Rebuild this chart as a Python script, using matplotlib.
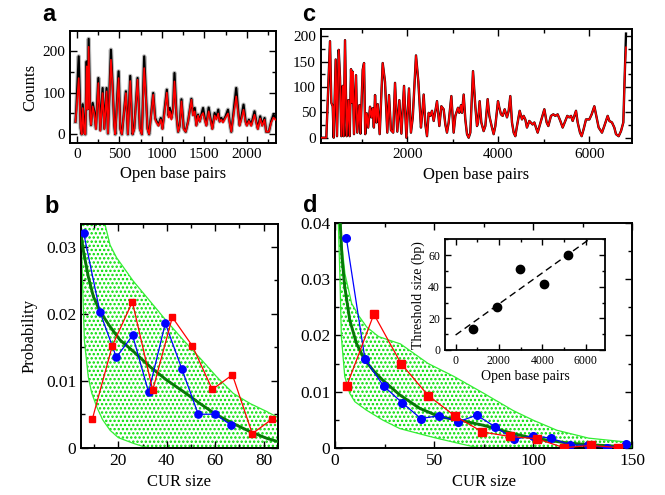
import numpy as np
import matplotlib
matplotlib.use("Agg")
import matplotlib.pyplot as plt
from matplotlib.ticker import MultipleLocator, FuncFormatter

# --- Panel a: counts vs open base pairs (black = data, red = model) --------
a_bp = [-15, -5, 23, 46, 58, 70, 90, 101, 117, 128, 140, 158, 168, 187, 206, 226, 254, 277,
        304, 324, 351, 367, 402, 422, 441, 453, 492, 512, 531, 578, 601, 629, 656, 676, 715,
        742, 766, 793, 813, 832, 851, 899, 922, 938, 961, 988, 1008, 1059, 1080, 1094, 1113,
        1133, 1149, 1172, 1192, 1211, 1231, 1258, 1281, 1309, 1348, 1367, 1387, 1406, 1426,
        1446, 1465, 1485, 1504, 1524, 1551, 1571, 1594, 1621, 1641, 1664, 1680, 1700, 1719,
        1750, 1778, 1797, 1817, 1836, 1875, 1895, 1914, 1934, 1961, 1985, 2000, 2024, 2051,
        2090, 2110, 2129, 2157, 2180, 2208, 2227, 2258, 2286, 2313, 2337]
a_black = [30, 60, 187, 15, 0, 72, 2, 0, 175, 60, 229, 47, 22, 75, 55, 14, 135, 10,
           111, 14, 111, 2, 203, 115, 22, 0, 151, 14, 0, 103, 0, 140, 0, 14, 135,
           14, 0, 187, 95, 14, 0, 99, 39, 31, 22, 39, 14, 107, 45, 63, 39,
           63, 147, 47, 6, 22, 84, 14, 6, 31, 85, 47, 63, 22, 47,
           31, 47, 63, 39, 22, 64, 39, 14, 51, 39, 59, 31, 39, 31,
           43, 59, 31, 6, 39, 111, 63, 22, 39, 71, 31, 22, 35, 22,
           55, 31, 14, 43, 22, 39, 6, 6, 31, 47, 39]
a_red = [30, 55, 135, 15, 0, 63, 2, 0, 163, 60, 210, 45, 22, 67, 50, 12, 123, 8,
         99, 12, 103, 2, 179, 111, 20, 0, 135, 12, 0, 99, 0, 128, 0, 12, 131,
         12, 0, 159, 90, 12, 0, 95, 35, 28, 20, 35, 12, 100, 40, 55, 35,
         60, 127, 45, 6, 20, 79, 12, 6, 30, 83, 45, 55, 20, 45,
         30, 45, 51, 35, 20, 55, 35, 12, 45, 35, 50, 30, 35, 28,
         40, 50, 28, 6, 35, 91, 55, 20, 35, 59, 28, 20, 32, 20,
         47, 28, 12, 38, 20, 35, 6, 6, 28, 40, 35]

# --- Panel c: longer sequence -----------------------------------------------
c_bp = [90, 220, 257, 301, 330, 360, 382, 426, 455, 492,
        521, 550, 580, 601, 631, 667, 704, 733, 763, 782,
        800, 828, 873, 900, 946, 970, 1020, 1049, 1075, 1108,
        1140, 1181, 1210, 1240, 1265, 1291, 1320, 1350, 1393, 1459,
        1510, 1560, 1598, 1640, 1690, 1730, 1780, 1825, 1870, 1928,
        1980, 2037, 2080, 2120, 2191, 2243, 2300, 2330, 2360, 2397,
        2433, 2470, 2506, 2543, 2580, 2653, 2704, 2748, 2799, 2836,
        2872, 2909, 2968, 3019, 3056, 3114, 3143, 3180, 3202, 3239,
        3275, 3312, 3349, 3385, 3444, 3495, 3532, 3554, 3590, 3627,
        3678, 3715, 3766, 3803, 3861, 3898, 3935, 3993, 4023, 4059,
        4096, 4140, 4191, 4228, 4264, 4301, 4338, 4374, 4411, 4470,
        4521, 4557, 4594, 4630, 4682, 4755, 4792, 4865, 4939, 5012,
        5063, 5100, 5158, 5210, 5254, 5305, 5364, 5415, 5473, 5517,
        5561, 5598, 5635, 5708, 5745, 5796, 5832, 5876, 5928, 6001,
        6052, 6111, 6147, 6206, 6279, 6330, 6404, 6441, 6499, 6550,
        6587, 6646, 6697, 6748, 6785, 6807]
c_black = [0, 0, 89, 190, 69, 62, 0, 154, 3, 173,
           118, 3, 102, 3, 192, 3, 74, 3, 135, 69,
           130, 7, 123, 10, 64, 8, 134, 147, 7, 48,
           20, 61, 40, 58, 20, 84, 30, 66, 7, 147,
           110, 10, 84, 15, 10, 108, 12, 74, 8, 102,
           0, 97, 10, 40, 162, 110, 20, 49, 85, 26,
           3, 49, 43, 53, 33, 72, 23, 62, 56, 26,
           10, 30, 82, 10, 43, 59, 49, 64, 49, 85,
           36, 7, 0, 10, 131, 62, 23, 30, 72, 30,
           13, 23, 76, 43, 20, 7, 23, 72, 59, 46,
           43, 56, 40, 53, 82, 30, 10, 3, 23, 53,
           36, 43, 36, 20, 33, 26, 30, 10, 33, 56,
           30, 23, 43, 46, 43, 46, 33, 20, 33, 43,
           40, 43, 33, 53, 30, 10, 3, 17, 36, 36,
           46, 62, 46, 20, 10, 23, 43, 33, 30, 20,
           7, 3, 13, 30, 141, 205]
c_red = c_black[:-1] + [178]

# --- Panel b: CUR size distribution -----------------------------------------
b_blue_x = [5.7, 12.4, 19.2, 25.9, 32.5, 39.4, 46.3, 53.0, 59.9, 66.5]
b_blue_y = [0.0321, 0.0203, 0.0135, 0.0168, 0.0083, 0.0186, 0.0117, 0.0050, 0.0050, 0.0034]
b_red_x = [9.3, 17.5, 25.8, 34.2, 42.3, 50.6, 58.8, 67.1, 75.3, 83.6]
b_red_y = [0.0043, 0.0152, 0.0218, 0.0086, 0.0195, 0.0152, 0.0087, 0.0109, 0.0021, 0.0043]
b_fit_x = [4.6, 5.5, 7.6, 9.7, 12.4, 16.6, 20.7, 26.2, 33.1, 40, 46.8, 53.7, 60.6, 67.5, 74.4, 81.3, 86]
b_fit_y = [0.0320, 0.0296, 0.0256, 0.0226, 0.0204, 0.0181, 0.0161, 0.0144, 0.0121, 0.0101,
           0.0084, 0.0066, 0.0049, 0.0036, 0.0024, 0.0014, 0.0009]
b_up_x = [4.6, 10, 14.5, 16.6, 19.3, 26.2, 33.1, 40, 46.8, 53.7, 60.6, 67.5, 74.4, 81.3, 86]
b_up_y = [0.045, 0.038, 0.0334, 0.0303, 0.0284, 0.0249, 0.0219, 0.0189, 0.0161, 0.0134,
          0.0106, 0.0081, 0.0066, 0.0054, 0.0045]
b_lo_x = [4.6, 5.2, 6.0, 7.6, 9.0, 11.1, 13.5, 16.6, 20, 26.2, 30, 32.4, 86]
b_lo_y = [0.034, 0.025, 0.016, 0.0106, 0.0082, 0.0061, 0.0042, 0.0026, 0.0015, 0.00065, 0.0002, 0, 0]

# --- Panel d ----------------------------------------------------------------
d_blue_x = [5.7, 15.1, 24.5, 33.9, 43.3, 52.7, 62.1, 71.5, 80.9, 90.3, 99.7, 109.1, 118.5, 127.9, 137.3, 146.7]
d_blue_y = [0.0374, 0.0158, 0.0110, 0.0080, 0.0052, 0.0057, 0.0046, 0.0058, 0.0037, 0.0015,
            0.0021, 0.0017, 0.0005, 0.0004, 0.0, 0.0006]
d_red_x = [5.9, 19.6, 33.3, 47.0, 60.7, 74.4, 88.1, 101.8, 115.5, 129.2, 142.9]
d_red_y = [0.0110, 0.0238, 0.0150, 0.0093, 0.0056, 0.0028, 0.0020, 0.0016, 0.0, 0.0004, 0.0]
d_fit_x = [2.5, 3.5, 4.9, 7.4, 10.8, 15, 20, 24.2, 32.7, 42.8, 52.9, 63, 74.7, 81, 90, 100, 110, 118, 130, 140, 150]
d_fit_y = [0.041, 0.034, 0.0287, 0.0228, 0.0186, 0.0156, 0.0135, 0.0120, 0.0094, 0.0070, 0.0055,
           0.0049, 0.0040, 0.0034, 0.0025, 0.0017, 0.0012, 0.0008, 0.0005, 0.0003, 0.0002]
d_up_x = [2.5, 3.5, 5, 8.4, 12, 16, 22, 33, 47, 60, 75, 90, 100, 112, 128, 150]
d_up_y = [0.042, 0.036, 0.031, 0.0257, 0.0235, 0.0215, 0.0198, 0.0185, 0.015, 0.0127,
          0.0097, 0.0066, 0.0049, 0.0031, 0.0017, 0.0009]
d_lo_x = [1.5, 2.5, 3.2, 4.9, 7.4, 10, 15.8, 24.2, 32.7, 50, 62, 72, 150]
d_lo_y = [0.042, 0.030, 0.0198, 0.0127, 0.0097, 0.0082, 0.0067, 0.0049, 0.0034, 0.0018, 0.0008, 0, 0]

# inset: threshold size vs open base pairs
ins_x = [785, 1892, 2969, 4092, 5200]
ins_y = [13.4, 27.1, 51.1, 42.0, 60.2]

plt.rcParams['font.family'] = 'Liberation Serif'
plt.rcParams['hatch.linewidth'] = 1.15

fig = plt.figure(figsize=(6.65, 4.95), dpi=100)


def style(ax, xmaj, xmin, ymaj, ymin, fs, lw=1.4, L=5):
    ax.xaxis.set_major_locator(MultipleLocator(xmaj))
    ax.xaxis.set_minor_locator(MultipleLocator(xmin))
    ax.yaxis.set_major_locator(MultipleLocator(ymaj))
    ax.yaxis.set_minor_locator(MultipleLocator(ymin))
    ax.tick_params(which='both', direction='in', top=True, right=True, labelsize=fs, width=1.0)
    ax.tick_params(which='major', length=L)
    ax.tick_params(which='minor', length=L * 0.55)
    for s in ax.spines.values():
        s.set_linewidth(lw)


def band(ax, ux, uy, lx, ly):
    px = np.concatenate([ux, lx[::-1]])
    py = np.concatenate([uy, ly[::-1]])
    ax.fill(px, py, facecolor='white', edgecolor='#00dd00', hatch='....', linewidth=0, zorder=1)
    ax.plot(ux, uy, color='#33ee33', lw=0.9, zorder=2)
    ax.plot(lx, ly, color='#33ee33', lw=0.9, zorder=2)


fmt = FuncFormatter(lambda v, p: '0' if abs(v) < 1e-9 else f'{v:g}')

# a
ax_a = fig.add_axes([0.1053, 0.7111, 0.3098, 0.2263])
ax_a.plot(a_bp, a_black, color='#bbbbbb', lw=3.2, zorder=1)
ax_a.plot(a_bp, a_black, color='black', lw=1.6, zorder=2)
ax_a.plot(a_bp, a_red, color='red', lw=1.2, zorder=3)
ax_a.set_xlim(-79, 2343)
ax_a.set_ylim(-21, 248)
style(ax_a, 500, 250, 100, 50, 11)
ax_a.set_xlabel('Open base pairs', fontsize=12, labelpad=4)
ax_a.set_ylabel('Counts', fontsize=12, labelpad=3)

# c
ax_c = fig.add_axes([0.4823, 0.7105, 0.4685, 0.2309])
ax_c.plot(c_bp, c_black, color='black', lw=1.7, zorder=2)
ax_c.plot(c_bp, c_red, color='red', lw=1.2, zorder=3)
ax_c.set_xlim(97, 6945)
ax_c.set_ylim(-11, 214)
style(ax_c, 2000, 1000, 50, 25, 11)
ax_c.set_xlabel('Open base pairs', fontsize=12, labelpad=4)

# b
ax_b = fig.add_axes([0.1218, 0.0956, 0.2958, 0.4513])
band(ax_b, b_up_x, b_up_y, b_lo_x, b_lo_y)
ax_b.plot(b_fit_x, b_fit_y, color='#087808', lw=2.1, zorder=3)
ax_b.plot(b_blue_x, b_blue_y, color='blue', lw=0.9, marker='o', ms=5.2, zorder=4)
ax_b.plot(b_red_x, b_red_y, color='red', lw=0.9, marker='s', ms=5.0, zorder=5)
ax_b.set_xlim(4.6, 85.8)
ax_b.set_ylim(0, 0.0334)
style(ax_b, 20, 10, 0.01, 0.005, 12.5)
ax_b.yaxis.set_major_formatter(fmt)
ax_b.set_xlabel('CUR size', fontsize=12, labelpad=4)
ax_b.set_ylabel('Probability', fontsize=12, labelpad=6)

# d
ax_d = fig.add_axes([0.5038, 0.0956, 0.4470, 0.4533])
band(ax_d, d_up_x, d_up_y, d_lo_x, d_lo_y)
ax_d.plot(d_fit_x, d_fit_y, color='#087808', lw=2.1, zorder=3)
ax_d.plot(d_blue_x, d_blue_y, color='blue', lw=0.9, marker='o', ms=5.5, zorder=4)
ax_d.plot(d_red_x, d_red_y, color='red', lw=0.9, marker='s', ms=5.2, zorder=5)
ax_d.set_xlim(0, 150)
ax_d.set_ylim(0, 0.04)
style(ax_d, 50, 25, 0.01, 0.005, 12.5)
ax_d.yaxis.set_major_formatter(fmt)
ax_d.set_xlabel('CUR size', fontsize=12, labelpad=4)

# inset
ax_i = fig.add_axes([0.669, 0.293, 0.2406, 0.2236])
ax_i.plot(ins_x, ins_y, 'o', color='black', ms=6, zorder=3)
k, b0 = np.polyfit(ins_x, ins_y, 1)
xl = np.array([0, 7000])
ax_i.plot(xl, k * xl + b0, color='black', lw=1.0, dashes=(5, 3), zorder=2)
ax_i.set_xlim(-494, 6890)
ax_i.set_ylim(0, 70)
style(ax_i, 2000, 1000, 20, 10, 8.5, lw=1.3, L=4)
ax_i.set_xlabel('Open base pairs', fontsize=10, labelpad=2)
ax_i.set_ylabel('Threshold size (bp)', fontsize=10, labelpad=2)

# panel letters
for x, y, s in [(0.064, 0.958, 'a'), (0.455, 0.958, 'c'), (0.067, 0.569, 'b'), (0.455, 0.571, 'd')]:
    fig.text(x, y, s, fontsize=17, fontweight='bold', family='Liberation Sans', va='baseline')

fig.savefig('out.png', dpi=100)
